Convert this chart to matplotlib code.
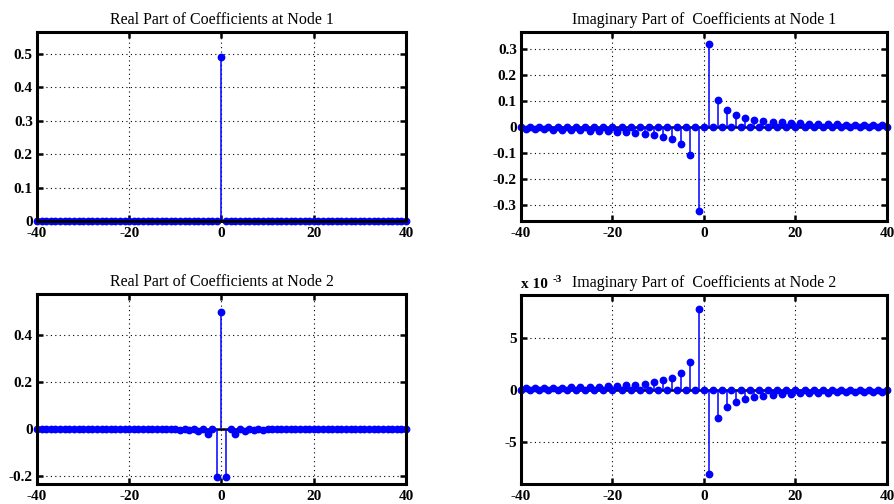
import matplotlib.pyplot as plt
import numpy as np

n = np.arange(-40, 41)
odd_pos = np.arange(1, 40, 2)

# values at odd harmonics (n = 1, 3, ..., 39 and n = -1, -3, ..., -39)
real1_dc = 0.49

imag1_pos = [0.318, 0.106, 0.064, 0.046, 0.036, 0.029, 0.025, 0.021, 0.019, 0.017,
             0.015, 0.014, 0.013, 0.012, 0.011, 0.010, 0.010, 0.009, 0.009, 0.008]
imag1_neg = [-0.320, -0.107, -0.065, -0.047, -0.037, -0.030, -0.025, -0.021, -0.019, -0.017,
             -0.015, -0.014, -0.013, -0.012, -0.011, -0.010, -0.010, -0.009, -0.009, -0.008]

real2_dc = 0.495
real2_pos = [-0.205, -0.022, -0.009, -0.005, -0.003, -0.002, -0.002, -0.001, -0.001, -0.001,
             -0.001, -0.001, 0.0, 0.0, 0.0, 0.0, 0.0, 0.0, 0.0, 0.0]
real2_neg = real2_pos

# units of 1e-3
imag2_pos = [-8.0, -2.7, -1.6, -1.1, -0.9, -0.7, -0.55, -0.45, -0.4, -0.35,
             -0.3, -0.3, -0.25, -0.25, -0.2, -0.2, -0.2, -0.2, -0.15, -0.15]
imag2_neg = [7.8, 2.7, 1.6, 1.15, 0.95, 0.75, 0.6, 0.5, 0.45, 0.4,
             0.35, 0.3, 0.3, 0.25, 0.25, 0.2, 0.2, 0.2, 0.2, 0.15]


def build(dc, pos, neg):
    y = np.zeros(n.size)
    y[n == 0] = dc
    y[np.isin(n, odd_pos)] = pos
    y[np.isin(n, -odd_pos)] = neg[::-1]
    return y


panels = [
    ('Real Part of Coefficients at Node 1', build(real1_dc, [0] * 20, [0] * 20),
     (0, 0.565), [0, 0.1, 0.2, 0.3, 0.4, 0.5], ['0', '0.1', '0.2', '0.3', '0.4', '0.5']),
    ('Imaginary Part of  Coefficients at Node 1', build(0, imag1_pos, imag1_neg),
     (-0.36, 0.365), [-0.3, -0.2, -0.1, 0, 0.1, 0.2, 0.3],
     ['-0.3', '-0.2', '-0.1', '0', '0.1', '0.2', '0.3']),
    ('Real Part of Coefficients at Node 2', build(real2_dc, real2_pos, real2_neg),
     (-0.233, 0.572), [-0.2, 0, 0.2, 0.4], ['-0.2', '0', '0.2', '0.4']),
    ('Imaginary Part of  Coefficients at Node 2', build(0, imag2_pos, imag2_neg),
     (-9.0, 9.1), [-5, 0, 5], ['-5', '0', '5']),
]

# axes boxes in pixels: left, right, top, bottom
boxes = [(37, 406, 32, 221), (521, 887, 32, 221),
         (37, 406, 294, 484), (521, 887, 295, 484)]

W, H = 895, 504
fig = plt.figure(figsize=(W / 100, H / 100), dpi=100)
serif = 'Liberation Serif'

for (title, y, ylim, yt, ytl), (l, r, t, b) in zip(panels, boxes):
    ax = fig.add_axes([l / W, 1 - b / H, (r - l) / W, (b - t) / H])
    ax.axhline(0, color='black', lw=1.8, zorder=2)
    ax.vlines(n, 0, y, color='blue', lw=1.1, zorder=3, clip_on=False)
    ax.plot(n, y, 'o', color='blue', ms=4.6, zorder=4, clip_on=False)
    ax.set_xlim(-40, 40)
    ax.set_ylim(*ylim)
    ax.set_xticks([-40, -20, 0, 20, 40])
    ax.set_xticklabels(['-40', '-20', '0', '20', '40'])
    ax.set_yticks(yt)
    ax.set_yticklabels(ytl)
    ax.grid(True, color='black', ls=(0, (1, 3)), lw=0.8)
    ax.tick_params(direction='in', length=4, width=1.8, top=True, right=True,
                   labelsize=11)
    ax.tick_params(axis='x', pad=4)
    ax.tick_params(axis='y', pad=3)
    for lab in ax.get_xticklabels() + ax.get_yticklabels():
        lab.set_fontfamily(serif)
        lab.set_fontweight('bold')
    for lab in ax.get_yticklabels():
        lab.set_verticalalignment('center_baseline')
    for sp in ax.spines.values():
        sp.set_linewidth(2.2)
        sp.set_zorder(5)
    ax.set_title(title, fontfamily=serif, fontsize=11.5, pad=6)
    last = ax

last.text(0.0, 1.02, 'x 10', transform=last.transAxes, ha='left', va='bottom',
          fontfamily=serif, fontsize=11, fontweight='bold')
last.text(0.085, 1.06, '-3', transform=last.transAxes, ha='left', va='bottom',
          fontfamily=serif, fontsize=8, fontweight='bold')

fig.savefig('out.png', dpi=100)
